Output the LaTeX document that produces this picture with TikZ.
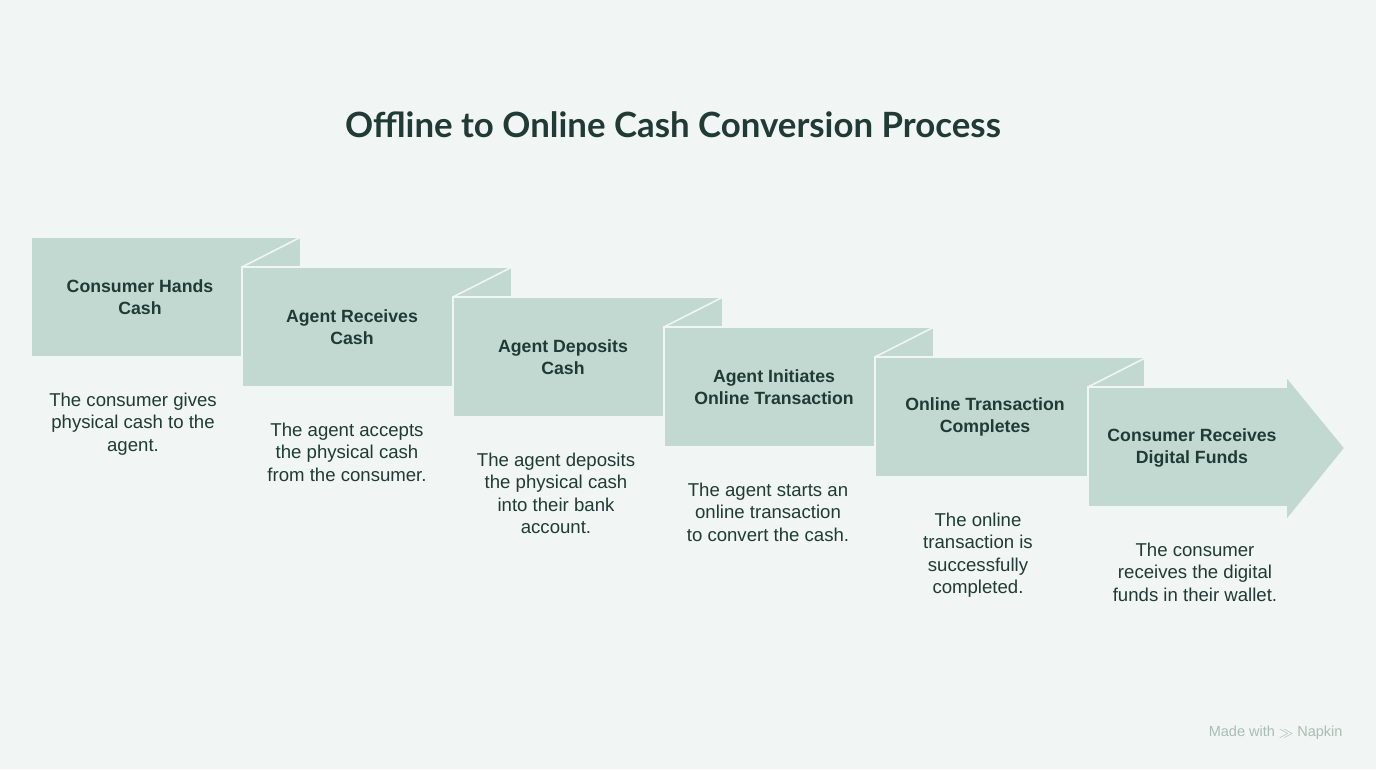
\documentclass[tikz,border=0pt]{standalone}
\usepackage{fontspec}
\setmainfont{Liberation Sans}
\newfontfamily\titlefont{Lato}
\definecolor{bg}{HTML}{F1F5F3}
\definecolor{boxc}{HTML}{C2D9D2}
\definecolor{txt}{HTML}{1F3B33}
\definecolor{mark}{HTML}{A9BDB5}
\begin{document}
\begin{tikzpicture}[x=1pt,y=-1pt,
  box/.style={fill=boxc,draw=bg,line width=1.6pt},
  lab/.style={font=\fontsize{17.7}{22.5}\selectfont\bfseries,text=txt,align=center},
  desc/.style={font=\fontsize{18.6}{22.5}\selectfont,text=txt,align=center}]
\fill[bg] (0,0) rectangle (1376,769);
\useasboundingbox (0,0) rectangle (1376,769);
\node[font=\titlefont\fontsize{34.8}{40}\selectfont\bfseries,text=txt] (title) at (673,125) {Offline to Online Cash Conversion Process};
\foreach \k/\a/\b/\ax/\bx in {
 0/{Consumer Hands\\Cash}/{The consumer gives\\physical cash to the\\agent.}/109/102,
 1/{Agent Receives\\Cash}/{The agent accepts\\the physical cash\\from the consumer.}/110/105,
 2/{Agent Deposits\\Cash}/{The agent deposits\\the physical cash\\into their bank\\account.}/110/103,
 3/{Agent Initiates\\Online Transaction}/{The agent starts an\\online transaction\\to convert the cash.}/110/104,
 4/{Online Transaction\\Completes}/{The online\\transaction is\\successfully\\completed.}/110/103}{
 \pgfmathsetmacro\xo{31+211*\k}
 \pgfmathsetmacro\yo{237+30*\k}
 \path[box] (\xo,\yo) rectangle ++(270,120);
 \ifnum\k>0
  \draw[bg,line width=1.6pt] (\xo,\yo) -- (\xo+59,\yo-30);
 \fi
 \node[lab] (l\k) at (\xo+\ax,\yo+60) {\a};
 \node[desc,anchor=north] (d\k) at (\xo+\bx,\yo+152) {\b};
}
\path[box] (1088,387) -- (1286,387) -- (1286,376) -- (1345,448) -- (1286,521) -- (1286,507) -- (1088,507) -- cycle;
\draw[bg,line width=1.6pt] (1088,387) -- (1147,357);
\node[lab] (l5) at (1192,448) {Consumer Receives\\Digital Funds};
\node[desc,anchor=north] (d5) at (1195,539) {The consumer\\receives the digital\\funds in their wallet.};
\node[font=\fontsize{14.5}{16}\selectfont,text=mark,anchor=east] (mw) at (1346,733) {Made with \raisebox{-1pt}{$\gg$} Napkin};
\end{tikzpicture}
\end{document}
